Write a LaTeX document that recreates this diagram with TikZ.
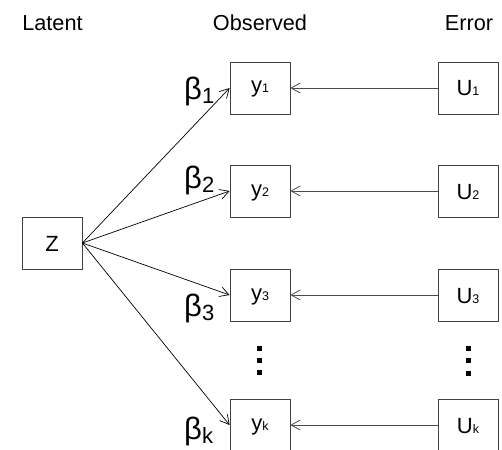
\documentclass[tikz,border=0pt]{standalone}
\usepackage{fontspec}
\setmainfont{Liberation Sans}
\usetikzlibrary{arrows.meta}

% large coefficient symbol with a normal-size index
\newcommand\coeflab[1]{{\fontsize{31}{31}\selectfont β}\raisebox{-4pt}{\fontsize{22}{22}\selectfont #1}}
% box label with a small index on the same baseline
\newcommand\idx[2]{#1{\fontsize{12.5}{12.5}\selectfont #2}}

\begin{document}
\begin{tikzpicture}[x=1pt,y=-1pt,
  box/.style={draw=black!75, line width=0.8pt, minimum width=60pt, minimum height=52pt, inner sep=0pt},
  obs/.style={box, text height=14pt, text depth=4pt, font=\fontsize{22}{22}\selectfont},
  caps/.style={box, text height=16pt, text depth=0pt, font=\fontsize{22}{22}\selectfont},
  head/.style={anchor=base, inner sep=0pt, font=\fontsize{21.7}{22}\selectfont},
  coef/.style={anchor=base west, inner sep=0pt},
  load/.style={draw=black, line width=0.7pt, -{Straight Barb[length=9pt,width=10pt]}},
  err/.style={draw=black!70, line width=0.8pt, -{Straight Barb[length=9pt,width=10pt]}},
  dot/.style={fill=black, minimum size=5pt, inner sep=0pt}
]
\useasboundingbox (0,0) rectangle (502,449);

% column headings
\node[head] (hl) at (52.5,30.5) {Latent};
\node[head] (ho) at (260,30.5) {Observed};
\node[head] (he) at (469,30.5) {Error};

% latent variable
\node[caps] (z) at (52,243) {Z};

% observed indicators
\node[obs] (y1) at (260,88) {\idx{y}{1}};
\node[obs] (y2) at (260,191) {\idx{y}{2}};
\node[obs] (y3) at (260,295) {\idx{y}{3}};
\node[obs] (yk) at (260,425) {\idx{y}{k}};

% error terms
\node[caps] (u1) at (468,88) {\idx{U}{1}};
\node[caps] (u2) at (468,191) {\idx{U}{2}};
\node[caps] (u3) at (468,295) {\idx{U}{3}};
\node[caps] (uk) at (468,425) {\idx{U}{k}};

% vertical ellipses
\node[dot] (oa) at (259,348.5) {};
\node[dot] (ob) at (259,360.5) {};
\node[dot] (oc) at (259,372.5) {};
\node[dot] (ea) at (468,348) {};
\node[dot] (eb) at (468,360.5) {};
\node[dot] (ec) at (468,373) {};

% loadings
\draw[load] (z.east) -- (y1.west);
\draw[load] (z.east) -- (y2.west);
\draw[load] (z.east) -- (y3.west);
\draw[load] (z.east) -- (yk.west);

% error paths
\draw[err] (u1.west) -- (y1.east);
\draw[err] (u2.west) -- (y2.east);
\draw[err] (u3.west) -- (y3.east);
\draw[err] (uk.west) -- (yk.east);

% loading labels
\node[coef] (b1) at (184,100) {\coeflab{1}};
\node[coef] (b2) at (184,188) {\coeflab{2}};
\node[coef] (b3) at (184,316) {\coeflab{3}};
\node[coef] (bk) at (184,439) {\coeflab{k}};
\end{tikzpicture}
\end{document}
